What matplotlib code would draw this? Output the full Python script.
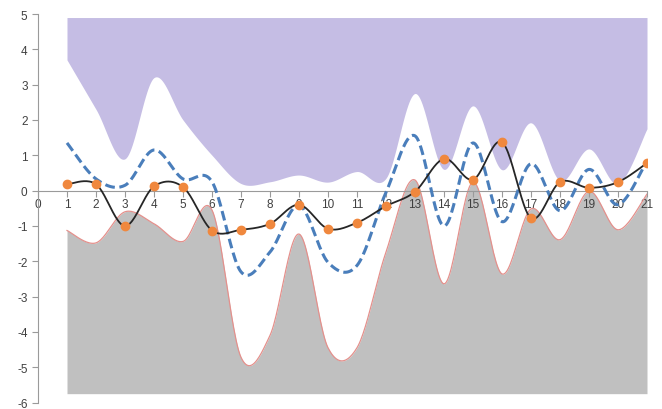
import numpy as np
import matplotlib.pyplot as plt

plt.rcParams['axes.unicode_minus'] = False

x = list(range(1, 22))
upper_edge = [3.7, 2.3, 0.9, 3.2, 2.0, 1.0, 0.2, 0.25, 0.44, 0.24, 0.54, 0.35,
              2.75, 0.6, 2.4, 0.59, 1.92, 0.28, 1.18, 0.19, 1.75]
lower_edge = [-1.13, -1.48, -0.6, -0.94, -1.44, -0.55, -4.72, -4.1, -1.23, -4.45, -4.45, -1.74,
              0.3, -2.64, 0.24, -2.36, -0.52, -1.39, -0.02, -1.11, -0.1]
dashed = [1.35, 0.33, 0.15, 1.15, 0.33, 0.25, -2.3, -1.74, -0.42, -2.03, -2.12, -0.05,
          1.55, -1.0, 1.35, -0.88, 0.76, -0.57, 0.6, -0.4, 0.85]
values = [0.18, 0.18, -1.0, 0.12, 0.1, -1.13, -1.11, -0.94, -0.4, -1.08, -0.91, -0.44,
          -0.03, 0.9, 0.31, 1.37, -0.78, 0.24, 0.08, 0.24, 0.78]
top_level = 4.9
bottom_level = -5.75


def smooth(xs, ys, n=24):
    # Bezier smoothing like a spreadsheet "smoothed line"
    xs = np.asarray(xs, float)
    ys = np.asarray(ys, float)
    px, py = [], []
    t = np.linspace(0, 1, n, endpoint=False)
    m = len(xs)
    for i in range(m - 1):
        i0, i3 = max(i - 1, 0), min(i + 2, m - 1)
        for arr, out in ((xs, px), (ys, py)):
            p0, p1, p2, p3 = arr[i0], arr[i], arr[i + 1], arr[i3]
            c1 = p1 + (p2 - p0) / 6
            c2 = p2 - (p3 - p1) / 6
            out.extend((1 - t) ** 3 * p1 + 3 * (1 - t) ** 2 * t * c1
                       + 3 * (1 - t) * t ** 2 * c2 + t ** 3 * p2)
    px.append(xs[-1])
    py.append(ys[-1])
    return np.array(px), np.array(py)


fig = plt.figure(figsize=(6.62, 4.10), dpi=100)
ax = fig.add_axes([38 / 662, 6.5 / 410, 609 / 662, 388.5 / 410])

ux, uy = smooth(x, upper_edge)
lx, ly = smooth(x, lower_edge)
dx, dy = smooth(x, dashed)
vx, vy = smooth(x, values)

ax.fill_between(ux, uy, top_level, color='#C5BDE4', linewidth=0, zorder=1)
ax.fill_between(lx, bottom_level, ly, color='#C0C0C0', linewidth=0, zorder=1)
ax.plot(lx, ly, color='#E4908C', linewidth=0.9, zorder=2)
ax.plot(dx, dy, color='#4A7EBB', linewidth=2.2, dashes=(3.2, 1.5), zorder=3)
ax.plot(vx, vy, color='#262626', linewidth=1.3, zorder=4)
ax.plot(x, values, linestyle='none', marker='o', markersize=6,
        color='#F0883E', zorder=5)

ax.set_xlim(0, 21)
ax.set_ylim(-6, 5)
ax.set_xticks(range(0, 22))
ax.set_yticks(range(-6, 6))

for s in ['top', 'right']:
    ax.spines[s].set_visible(False)
ax.spines['bottom'].set_position(('data', 0))
ax.spines['bottom'].set_color('#9A9A9A')
ax.spines['left'].set_color('#9A9A9A')
ax.spines['bottom'].set_zorder(2.5)
ax.tick_params(axis='both', colors='#9A9A9A', length=4, width=0.8,
               labelcolor='#404040', labelsize=8.5)
ax.tick_params(axis='x', pad=1.5)
for lab in ax.get_xticklabels() + ax.get_yticklabels():
    lab.set_family('Liberation Sans')

fig.savefig('out.png', dpi=100)
